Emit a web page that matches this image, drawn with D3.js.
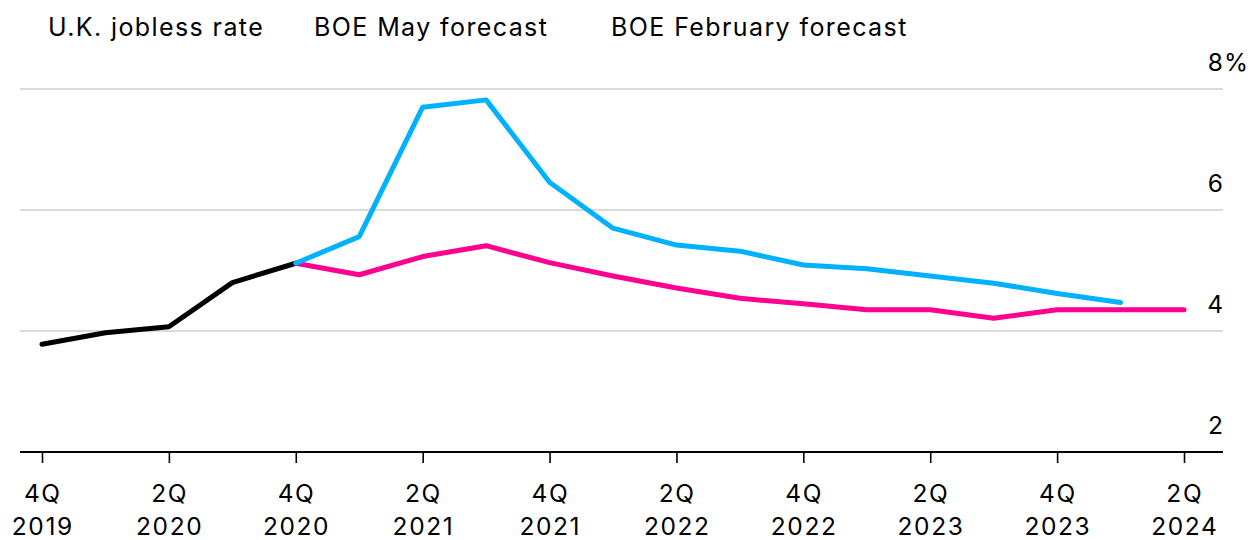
<!DOCTYPE html>
<html><head><meta charset="utf-8">
<script src="https://cdn.jsdelivr.net/npm/d3@7"></script>
<style>
body{margin:0;background:#fff}
svg{display:block}
text{font-family:Inter,"Liberation Sans",Arial,sans-serif;fill:#000}
</style>
</head><body>
<svg id="chart" width="1252" height="540"></svg>
<script>
// Quarter categories (4Q 2019 .. 2Q 2024)
const quarters = ["4Q 2019","1Q 2020","2Q 2020","3Q 2020","4Q 2020","1Q 2021","2Q 2021","3Q 2021","4Q 2021",
  "1Q 2022","2Q 2022","3Q 2022","4Q 2022","1Q 2023","2Q 2023","3Q 2023","4Q 2023","1Q 2024","2Q 2024"];
// Series values (%), aligned to quarters starting at the given index
const joblessRate = [3.78, 3.97, 4.07, 4.8, 5.12];           // starts 4Q 2019
const joblessStart = 0;
const febForecast = [5.12, 5.56, 7.7, 7.82, 6.46, 5.7, 5.42, 5.32, 5.09, 5.03, 4.91, 4.79, 4.62, 4.47]; // starts 4Q 2020
const febStart = 4;
const mayForecast = [5.12, 4.93, 5.23, 5.41, 5.13, 4.91, 4.71, 4.54, 4.45, 4.35, 4.35, 4.21, 4.35, 4.35, 4.35]; // starts 4Q 2020
const mayStart = 4;
// Legend labels
const legendLabels = ["U.K. jobless rate", "BOE May forecast", "BOE February forecast"];
// Tick labels
const xTickIdx = [0,2,4,6,8,10,12,14,16,18];
const yTicks = [2,4,6,8];
const yTickLabels = ["2","4","6","8"];
const yUnit = "%";

const svg = d3.select("#chart");
const x = d3.scaleLinear().domain([0, quarters.length - 1]).range([42, 1184]);
const y = d3.scaleLinear().domain([2, 8]).range([452, 89]);
const left = 20, right = 1223;
const axisLS = 1.6;

// gridlines
svg.append("g").selectAll("line").data(yTicks.filter(v => v > 2)).join("line")
  .attr("x1", left).attr("x2", right)
  .attr("y1", d => y(d)).attr("y2", d => y(d))
  .attr("stroke", "#dadada").attr("stroke-width", 2);

// y labels
const yl = svg.append("g");
yl.selectAll("text").data(yTicks).join("text")
  .attr("x", right + axisLS).attr("y", d => y(d) - 18)
  .attr("text-anchor", "end").attr("font-size", 24.5)
  .attr("letter-spacing", axisLS)
  .text((d, i) => yTickLabels[i]);
yl.append("text").attr("x", right + 1).attr("y", y(8) - 18)
  .attr("font-size", 24.5).attr("letter-spacing", axisLS).text(yUnit);

// x axis
const xAxis = d3.axisBottom(x).tickValues(xTickIdx).tickSize(11).tickFormat("");
const gx = svg.append("g").attr("transform", `translate(0,${y(2)})`).call(xAxis);
gx.select(".domain").remove();
gx.selectAll(".tick line").attr("stroke", "#000").attr("stroke-width", 1.6);
svg.append("line").attr("x1", left).attr("x2", right).attr("y1", y(2)).attr("y2", y(2))
  .attr("stroke", "#000").attr("stroke-width", 2);
const xl = svg.append("g");
xTickIdx.forEach(i => {
  const [q, yr] = quarters[i].split(" ");
  const t = xl.append("text").attr("text-anchor", "middle").attr("font-size", 24.5)
    .attr("letter-spacing", axisLS);
  t.append("tspan").attr("x", x(i) + axisLS / 2).attr("y", 502).text(q);
  t.append("tspan").attr("x", x(i) + axisLS / 2).attr("y", 535).text(yr);
});

// lines
const line = d3.line().x(d => x(d.i)).y(d => y(d.v));
function series(vals, start, color) {
  const data = vals.map((v, k) => ({i: start + k, v}));
  svg.append("path").datum(data).attr("d", line)
    .attr("fill", "none").attr("stroke", color).attr("stroke-width", 5)
    .attr("stroke-linejoin", "round").attr("stroke-linecap", "round");
}
series(mayForecast, mayStart, "#ff0090");
series(joblessRate, joblessStart, "#000000");
series(febForecast, febStart, "#00b1ff");

// legend (text only)
const legendX = [48, 314, 611];
svg.append("g").selectAll("text").data(legendLabels).join("text")
  .attr("x", (d, i) => legendX[i]).attr("y", 36).attr("font-size", 25)
  .attr("letter-spacing", 1.4)
  .text(d => d);
</script>
</body></html>
